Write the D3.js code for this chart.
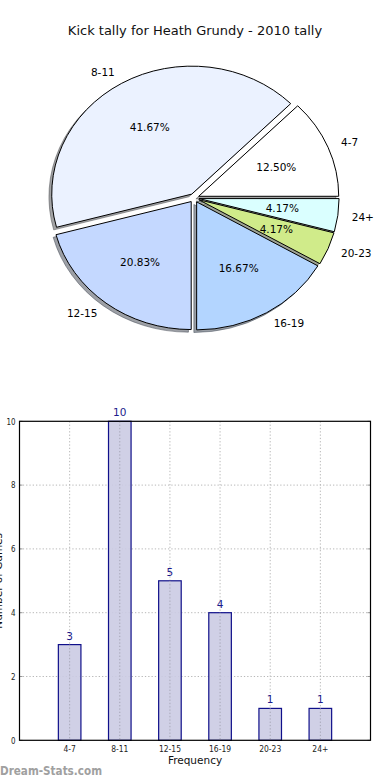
<!DOCTYPE html>
<html><head><meta charset="utf-8">
<script src="https://cdn.jsdelivr.net/npm/d3@7"></script>
<style>body{margin:0;background:#fff} svg{display:block} text{font-family:"DejaVu Sans",sans-serif}</style>
</head><body><svg id="c" width="390" height="780"></svg>
<script>
const title = "Kick tally for Heath Grundy - 2010 tally";
const categories = ["4-7","8-11","12-15","16-19","20-23","24+"];
const counts = [3,10,5,4,1,1];
const pieColors = ["#ffffff","#ebf2ff","#c4d8ff","#b3d5ff","#d0eb8a","#daffff"];
const yTicks = [0,2,4,6,8,10];
const xLabel = "Frequency";
const yLabel = "Number of Games";
const watermark = "Dream-Stats.com";

const svg = d3.select("#c");
svg.append("rect").attr("width",390).attr("height",780).attr("fill","#fff");

// Title
svg.append("text").attr("x",195).attr("y",30).attr("dy","0.35em")
  .attr("text-anchor","middle").attr("font-size",13).attr("fill","#111").text(title);

// ---------- Pie ----------
const cx = 194.2, cy = 198, rx = 140, ry = 128, explode = 0.035;
const total = d3.sum(counts);
const pie = d3.pie().sort(null).value(d=>d)
  .startAngle(Math.PI/2).endAngle(Math.PI/2 - 2*Math.PI);
const arcs = pie(counts);
const arcGen = d3.arc().innerRadius(0).outerRadius(1);
function off(a, k){ const m=(a.startAngle+a.endAngle)/2; return [k*rx*Math.sin(m), -k*ry*Math.cos(m)]; }

const pg = svg.append("g");
// shadows
pg.selectAll("path.shadow").data(arcs).enter().append("path")
  .attr("class","shadow")
  .attr("transform", a => { const o=off(a,explode); return `translate(${cx+o[0]-2.8},${cy+o[1]+2.6}) scale(${rx},${ry})`; })
  .attr("d", arcGen)
  .attr("fill", (a,i) => { const c=d3.rgb(pieColors[i]); return d3.rgb(c.r*0.3,c.g*0.3,c.b*0.3).toString(); })
  .attr("fill-opacity",0.5)
  .attr("stroke", (a,i) => { const c=d3.rgb(pieColors[i]); return d3.rgb(c.r*0.3,c.g*0.3,c.b*0.3).toString(); })
  .attr("stroke-opacity",0.5).attr("stroke-width",1).attr("vector-effect","non-scaling-stroke");
// wedges
pg.selectAll("path.wedge").data(arcs).enter().append("path")
  .attr("class","wedge")
  .attr("transform", a => { const o=off(a,explode); return `translate(${cx+o[0]},${cy+o[1]}) scale(${rx},${ry})`; })
  .attr("d", arcGen)
  .attr("fill", (a,i)=>pieColors[i])
  .attr("stroke","#000").attr("stroke-width",1).attr("vector-effect","non-scaling-stroke");
// labels
pg.selectAll("text.lab").data(arcs).enter().append("text")
  .attr("class","lab")
  .attr("x", a => cx + off(a, explode+1.1)[0])
  .attr("y", a => cy + off(a, explode+1.1)[1])
  .attr("dy","0.35em").attr("font-size",10.5).attr("fill","#000")
  .attr("text-anchor", a => off(a,1)[0] > 0 ? "start" : "end")
  .text((a,i)=>categories[i]);
pg.selectAll("text.pct").data(arcs).enter().append("text")
  .attr("class","pct")
  .attr("x", a => cx + off(a, explode+0.6)[0])
  .attr("y", a => cy + off(a, explode+0.6)[1])
  .attr("dy","0.35em").attr("font-size",10.5).attr("fill","#000")
  .attr("text-anchor","middle")
  .text(a => (a.value/total*100).toFixed(2)+"%");

// ---------- Bar chart ----------
const L = 19.5, R = 370.5, T = 421.3, B = 740.3;
const x = d3.scaleLinear().domain([0, categories.length+1]).range([L,R]);
const y = d3.scaleLinear().domain([0,10]).range([B,T]);
const bg = svg.append("g");
const gridColor = "#b8b8b8";
// grid
bg.selectAll("line.gy").data(yTicks.filter(t=>t>0 && t<10)).enter().append("line")
  .attr("x1",L).attr("x2",R).attr("y1",d=>y(d)).attr("y2",d=>y(d))
  .attr("stroke",gridColor).attr("stroke-dasharray","1.3,2").attr("stroke-width",1);
bg.selectAll("line.gx").data(categories).enter().append("line")
  .attr("x1",(d,i)=>x(i+1)).attr("x2",(d,i)=>x(i+1)).attr("y1",T).attr("y2",B)
  .attr("stroke",gridColor).attr("stroke-dasharray","1.3,2").attr("stroke-width",1);
// bars
const bw = x(0.45)-x(0);
bg.selectAll("rect.bar").data(counts).enter().append("rect")
  .attr("x",(d,i)=>x(i+1)-bw/2).attr("width",bw)
  .attr("y",d=>y(d)).attr("height",d=>B-y(d))
  .attr("fill","#cbcbe3").attr("fill-opacity",0.9).attr("stroke","#10108a").attr("stroke-width",1.2);
// redraw vertical grid over bars (matplotlib grid on top)
bg.selectAll("line.gx2").data(categories).enter().append("line")
  .attr("x1",(d,i)=>x(i+1)).attr("x2",(d,i)=>x(i+1)).attr("y1",(d,i)=>y(counts[i])).attr("y2",B)
  .attr("stroke","#a8a8b8").attr("stroke-dasharray","1.3,2").attr("stroke-width",1);
// value labels
bg.selectAll("text.val").data(counts).enter().append("text")
  .attr("x",(d,i)=>x(i+1)).attr("y",d=>y(d)-5)
  .attr("text-anchor","middle").attr("font-size",10.5).attr("fill","#1c1c8c")
  .text(d=>d);
// ticks
bg.selectAll("line.tl").data(yTicks).enter().append("line")
  .attr("x1",L).attr("x2",L+3).attr("y1",d=>y(d)).attr("y2",d=>y(d)).attr("stroke","#999");
bg.selectAll("line.tr").data(yTicks).enter().append("line")
  .attr("x1",R-3).attr("x2",R).attr("y1",d=>y(d)).attr("y2",d=>y(d)).attr("stroke","#999");
// frame
bg.append("rect").attr("x",L).attr("y",T).attr("width",R-L).attr("height",B-T)
  .attr("fill","none").attr("stroke","#000").attr("stroke-width",1.2);
// y tick labels
bg.selectAll("text.yt").data(yTicks).enter().append("text")
  .attr("transform",d=>`translate(15.5,${y(d)}) scale(0.75,1)`)
  .attr("dy","0.35em").attr("text-anchor","end").attr("font-size",9.5).attr("fill","#222")
  .text(d=>d);
// x tick labels
bg.selectAll("text.xt").data(categories).enter().append("text")
  .attr("transform",(d,i)=>`translate(${x(i+1)},${B+8}) scale(0.8,1)`)
  .attr("dy","0.35em").attr("text-anchor","middle").attr("font-size",9.5).attr("fill","#222")
  .text(d=>d);
// axis labels
bg.append("text").attr("x",(L+R)/2).attr("y",760).attr("dy","0.35em")
  .attr("text-anchor","middle").attr("font-size",10.5).attr("fill","#111").text(xLabel);
bg.append("text").attr("transform",`translate(1.5,${(T+B)/2}) rotate(-90)`)
  .attr("text-anchor","middle").attr("font-size",10.5).attr("fill","#111").text(yLabel);
// watermark
svg.append("text").attr("x",0).attr("y",771).attr("dy","0.35em")
  .attr("font-size",11.7).attr("font-weight","bold").attr("fill","#a0a0a0").attr("textLength",102).attr("lengthAdjust","spacingAndGlyphs").text(watermark);
</script></body></html>
